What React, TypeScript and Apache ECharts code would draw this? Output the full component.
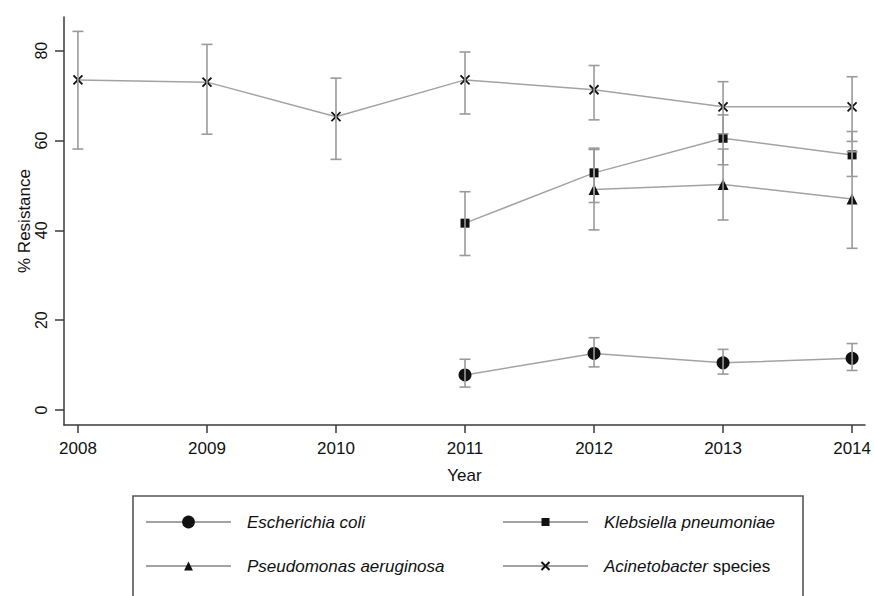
import React, { useEffect, useRef } from "react";
import * as echarts from "echarts";

const yearsAll = [2008, 2009, 2010, 2011, 2012, 2013, 2014];
const yearsFrom2011 = [2011, 2012, 2013, 2014];
const yearsFrom2012 = [2012, 2013, 2014];

const acinetoValues = [73.5, 73.0, 65.3, 73.5, 71.3, 67.5, 67.5];
const acinetoLow = [58.1, 61.4, 55.8, 65.9, 64.6, 61.5, 59.8];
const acinetoHigh = [84.3, 81.4, 73.9, 79.7, 76.7, 73.1, 74.2];

const ecoliValues = [7.8, 12.6, 10.5, 11.5];
const ecoliLow = [5.1, 9.6, 8.0, 8.8];
const ecoliHigh = [11.3, 16.1, 13.5, 14.8];

const klebValues = [41.6, 52.8, 60.5, 56.8];
const klebLow = [34.4, 46.2, 54.6, 52.0];
const klebHigh = [48.6, 58.3, 65.7, 62.0];

const pseudoValues = [49.1, 50.2, 47.0];
const pseudoLow = [40.1, 42.3, 36.0];
const pseudoHigh = [58.0, 58.1, 57.5];

const yTicks = [0, 20, 40, 60, 80];
const xTicks = [2008, 2009, 2010, 2011, 2012, 2013, 2014];

const NAMES = {
  ecoli: "Escherichia coli",
  kleb: "Klebsiella pneumoniae",
  pseudo: "Pseudomonas aeruginosa",
  acineto: "Acinetobacter species",
};

const LINE_GRAY = "#a3a3a3";
const BAR_GRAY = "#9a9a9a";
const MARK = "#111111";
const AXIS = "#3a3a3a";
const FONT = "Liberation Sans";
const X_SYMBOL = "path://M0,0L10,10M10,0L0,10";

function pairs(xs: number[], ys: number[]) {
  return xs.map((x, i) => [x, ys[i]]);
}
function triples(xs: number[], lo: number[], hi: number[]) {
  return xs.map((x, i) => [x, lo[i], hi[i]]);
}

export default function App() {
  const ref = useRef<HTMLDivElement>(null);
  useEffect(() => {
    if (!ref.current) return;
    const chart = echarts.init(ref.current, undefined, { renderer: "svg" });
    const errorData = [
      ...triples(yearsAll, acinetoLow, acinetoHigh),
      ...triples(yearsFrom2011, ecoliLow, ecoliHigh),
      ...triples(yearsFrom2011, klebLow, klebHigh),
      ...triples(yearsFrom2012, pseudoLow, pseudoHigh),
    ];
    const lineBase = {
      type: "line",
      lineStyle: { color: LINE_GRAY, width: 1.5 },
      z: 2,
    };
    const textBase = {
      fontFamily: FONT,
      fontSize: 17,
      fontStyle: "italic",
      color: "#111",
      lineHeight: 20,
      padding: [0, 0, 0, 11],
      rich: {
        i: { fontFamily: FONT, fontSize: 17, fontStyle: "italic", color: "#111", lineHeight: 20 },
        n: { fontFamily: FONT, fontSize: 17, fontStyle: "normal", color: "#111", lineHeight: 20 },
      },
    };
    const legendBase = {
      orient: "horizontal",
      padding: 0,
      itemWidth: 85,
      textStyle: textBase,
      selectedMode: false,
    };
    chart.setOption({
      animation: false,
      backgroundColor: "#ffffff",
      grid: { left: 64, right: 6, top: 17, bottom: 171, containLabel: false },
      xAxis: {
        type: "value",
        min: 2007.892,
        max: 2014.1,
        name: "Year",
        nameLocation: "middle",
        nameGap: 42,
        nameTextStyle: { fontFamily: FONT, fontSize: 17, color: "#111" },
        axisLine: { show: true, onZero: false, lineStyle: { color: AXIS, width: 1.5 } },
        axisTick: { show: true, length: 8, customValues: xTicks, lineStyle: { color: AXIS, width: 1.5 } },
        axisLabel: {
          customValues: xTicks,
          formatter: (v: number) => String(v),
          fontFamily: FONT,
          fontSize: 17,
          color: "#111",
          margin: 15,
        },
        splitLine: { show: false },
      },
      yAxis: {
        type: "value",
        min: -3.34,
        max: 87.5,
        name: "% Resistance",
        nameLocation: "middle",
        nameGap: 31,
        nameTextStyle: { fontFamily: FONT, fontSize: 17, color: "#111" },
        axisLine: { show: true, onZero: false, lineStyle: { color: AXIS, width: 1.5 } },
        axisTick: { show: true, length: 9, customValues: yTicks, lineStyle: { color: AXIS, width: 1.5 } },
        axisLabel: { show: false },
        splitLine: { show: false },
      },
      legend: [
        { ...legendBase, data: [NAMES.ecoli], left: 145, top: 512, itemHeight: 16 },
        { ...legendBase, data: [NAMES.kleb], left: 502, top: 512, itemHeight: 10 },
        { ...legendBase, data: [NAMES.pseudo], left: 145, top: 556, itemHeight: 11 },
        {
          ...legendBase,
          data: [NAMES.acineto],
          left: 502,
          top: 556,
          itemHeight: 10,
          formatter: () => "{i|Acinetobacter} {n|species}",
        },
      ],
      series: [
        {
          ...lineBase,
          name: NAMES.ecoli,
          data: pairs(yearsFrom2011, ecoliValues),
          symbol: "circle",
          symbolSize: 13,
          itemStyle: { color: MARK },
        },
        {
          ...lineBase,
          name: NAMES.kleb,
          data: pairs(yearsFrom2011, klebValues),
          symbol: "rect",
          symbolSize: 9,
          itemStyle: { color: MARK },
        },
        {
          ...lineBase,
          name: NAMES.pseudo,
          data: pairs(yearsFrom2012, pseudoValues),
          symbol: "triangle",
          symbolSize: 11,
          itemStyle: { color: MARK },
        },
        {
          ...lineBase,
          name: NAMES.acineto,
          data: pairs(yearsAll, acinetoValues),
          symbol: X_SYMBOL,
          symbolSize: 9,
          itemStyle: { color: "rgba(0,0,0,0)", borderColor: MARK, borderWidth: 1.8 },
        },
        {
          type: "custom",
          name: "errors",
          z: 3,
          data: errorData,
          encode: { x: 0, y: [1, 2] },
          renderItem: (params: any, api: any) => {
            const x = api.value(0);
            const lo = api.coord([x, api.value(1)]);
            const hi = api.coord([x, api.value(2)]);
            const hw = 5.5;
            const style = { stroke: BAR_GRAY, lineWidth: 1.6 };
            return {
              type: "group",
              children: [
                { type: "line", shape: { x1: lo[0], y1: lo[1], x2: hi[0], y2: hi[1] }, style },
                { type: "line", shape: { x1: lo[0] - hw, y1: lo[1], x2: lo[0] + hw, y2: lo[1] }, style },
                { type: "line", shape: { x1: hi[0] - hw, y1: hi[1], x2: hi[0] + hw, y2: hi[1] }, style },
              ],
            };
          },
        },
      ],
    });
    // Rotated y tick labels, positioned through the axis scale.
    const labelEls = yTicks.map((v) => {
      const py = chart.convertToPixel({ yAxisIndex: 0 }, v) as number;
      return {
        type: "text",
        x: 41,
        y: py,
        rotation: Math.PI / 2,
        silent: true,
        style: {
          text: String(v),
          fontFamily: FONT,
          fontSize: 16,
          fill: "#111",
          textAlign: "center",
          textVerticalAlign: "middle",
        },
      };
    });
    chart.setOption({
      graphic: [
        {
          type: "rect",
          shape: { x: 133, y: 496, width: 670, height: 120 },
          style: { fill: "none", stroke: "#555", lineWidth: 1.6 },
          silent: true,
        },
        ...labelEls,
      ],
    });
    return () => chart.dispose();
  }, []);
  return (
    <div
      ref={ref}
      style={{ position: "fixed", left: 0, top: 0, width: 874, height: 596, background: "#fff" }}
    />
  );
}
